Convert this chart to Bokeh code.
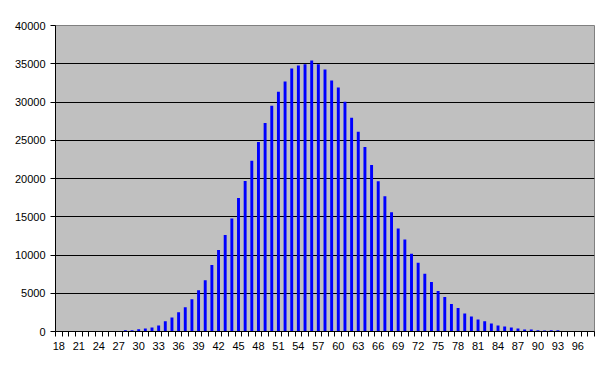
from bokeh.plotting import figure
from bokeh.models import Range1d, FixedTicker, ColumnDataSource
from bokeh.embed import file_html
from bokeh.resources import INLINE

ages = list(range(18, 99))
counts = [0, 0, 0, 0, 0, 0, 0, 0, 0, 0,
          170, 170, 300, 390, 520, 790, 1330, 1840, 2520, 3160,
          4200, 5400, 6710, 8680, 10650, 12600, 14760, 17450, 19680, 22320,
          24780, 27270, 29520, 31350, 32690, 34390, 34780, 34950, 35440, 34950,
          34260, 32820, 31900, 30040, 27950, 26110, 24130, 21760, 19650, 17690,
          15580, 13450, 12010, 10170, 9000, 7550, 6480, 5300, 4520, 3600,
          3080, 2360, 1970, 1570, 1330, 1050, 790, 655, 525, 390,
          260, 260, 175, 130, 175, 175, 0, 0, 0, 0, 0]
x_tick_labels = list(range(18, 99, 3))
y_ticks = list(range(0, 40001, 5000))

src = ColumnDataSource(data=dict(x=ages, top=counts))

p = figure(width=609, height=373, output_backend="svg", toolbar_location=None,
           x_range=Range1d(ages[0] - 0.5, ages[-1] + 0.5),
           y_range=Range1d(0, 40000),
           min_border_left=55, min_border_right=15,
           min_border_top=25, min_border_bottom=42)
p.background_fill_color = "#C0C0C0"
p.border_fill_color = "white"
p.outline_line_color = "#808080"
p.outline_line_width = 1

p.vbar(x="x", top="top", bottom=0, width=0.44, source=src,
       fill_color="#0000FF", line_color=None)

font = "Liberation Sans"

# x axis
p.xaxis.ticker = FixedTicker(ticks=x_tick_labels,
                             minor_ticks=[a - 0.5 for a in ages] + [ages[-1] + 0.5])
p.xaxis.major_tick_line_color = None
p.xaxis.major_tick_out = 5
p.xaxis.major_tick_in = 0
p.xaxis.minor_tick_line_color = "black"
p.xaxis.minor_tick_out = 5
p.xaxis.minor_tick_in = 0
p.xaxis.axis_line_color = "black"
p.xaxis.major_label_standoff = 5
p.xaxis.major_label_text_font = font
p.xaxis.major_label_text_font_size = "11px"
p.xaxis.major_label_text_color = "black"

# y axis
p.yaxis.ticker = FixedTicker(ticks=y_ticks)
p.yaxis.major_tick_line_color = "black"
p.yaxis.major_tick_out = 5
p.yaxis.major_tick_in = 0
p.yaxis.minor_tick_line_color = None
p.yaxis.axis_line_color = "black"
p.yaxis.major_label_standoff = 5
p.yaxis.major_label_text_font = font
p.yaxis.major_label_text_font_size = "11px"
p.yaxis.major_label_text_color = "black"

p.xgrid.grid_line_color = None
p.ygrid.ticker = FixedTicker(ticks=y_ticks[1:-1])
p.ygrid.grid_line_color = "black"
p.ygrid.grid_line_width = 1

open("out.html", "w").write(file_html(p, INLINE))
